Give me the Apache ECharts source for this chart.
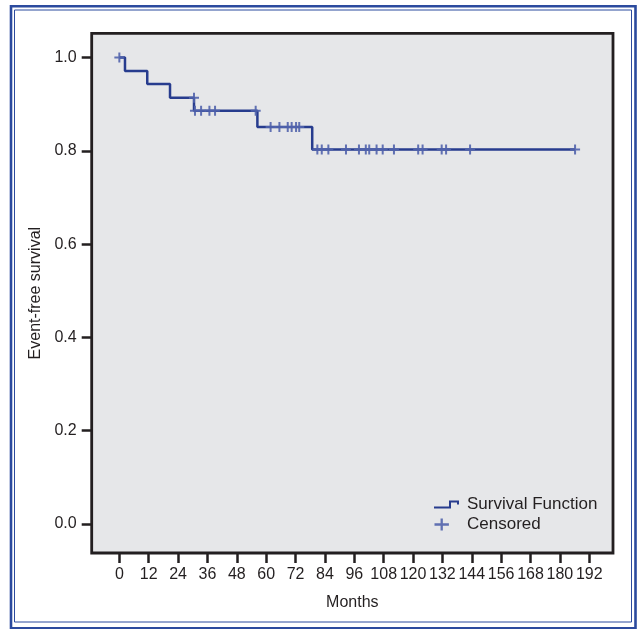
<!DOCTYPE html>
<html>
<head>
<meta charset="utf-8">
<script src="https://cdn.jsdelivr.net/npm/echarts@6/dist/echarts.min.js"></script>
<style>
  html, body { margin: 0; padding: 0; background: #fff; }
  #chart { width: 641px; height: 629px; }
</style>
</head>
<body>
<div id="chart"></div>
<script>
// step points of the survival function (months, survival)
let eventTimes = [0, 2.3, 11.4, 20.7, 30.5, 56.4, 78.8]
let eventSurv = [1.0, 0.971, 0.943, 0.914, 0.886, 0.851, 0.803]
// censored marks
let censorTimes = [0, 30.5, 30.9, 33.4, 36.8, 39.1, 55.7, 61.8, 65.4, 68.8, 70.4, 72.2, 73.5,
  80.9, 82.7, 85.4, 92.6, 97.9, 100.7, 102.1, 105.1, 107.6, 112.2, 122.1, 123.9, 131.7, 133.5, 143.3, 186.2]
let censorSurv = [1.0, 0.914, 0.886, 0.886, 0.886, 0.886, 0.886, 0.851, 0.851, 0.851, 0.851, 0.851, 0.851,
  0.803, 0.803, 0.803, 0.803, 0.803, 0.803, 0.803, 0.803, 0.803, 0.803, 0.803, 0.803, 0.803, 0.803, 0.803, 0.803]
let monthTicks = [0, 12, 24, 36, 48, 60, 72, 84, 96, 108, 120, 132, 144, 156, 168, 180, 192]
let survTicks = [0, 0.2, 0.4, 0.6, 0.8, 1.0]

let lineColor = '#273c8e'
let censorColor = '#5163ac'
let ink = '#231f20'
let frameBlue = '#2b4a9e'
let font = '"Liberation Sans", Arial, Helvetica, sans-serif'

let stepData = eventTimes.map((t, i) => [t, eventSurv[i]])
// line runs on to the last censored observation
stepData.push([censorTimes[censorTimes.length - 1], eventSurv[eventSurv.length - 1]])
let censorData = censorTimes.map((t, i) => [t, censorSurv[i]])

let plusPath = 'path://M0,4H10V6H0Z M4,0H6V10H4Z'
let stepIcon = 'path://M0,0h0.01v0.01h-0.01Z M0,12h0.01v-0.01h-0.01Z M0,8H15V2H25V6H23V4H17V10H0Z'
let plusIcon = 'path://M24.99,0h0.01v0.01h-0.01Z M0,5H15V7.5H0Z M6.3,0H8.7V12.5H6.3Z'

let myChart = echarts.init(document.getElementById('chart'))
let option = {
  animation: false,
  backgroundColor: '#fff',
  textStyle: { fontFamily: font, color: ink },
  graphic: [
    {
      type: 'rect',
      shape: { x: 11, y: 6.3, width: 624.5, height: 622 },
      style: { fill: 'none', stroke: frameBlue, lineWidth: 2.6 }
    },
    {
      type: 'rect',
      shape: { x: 14.5, y: 10, width: 617, height: 612 },
      style: { fill: 'none', stroke: frameBlue, lineWidth: 1 }
    }
  ],
  grid: {
    left: 91.7,
    top: 33.3,
    right: 28,
    bottom: 76,
    show: true,
    backgroundColor: '#e6e7e9',
    borderColor: ink,
    borderWidth: 2.8
  },
  legend: {
    orient: 'vertical',
    left: 429,
    top: 491,
    itemWidth: 25,
    itemHeight: 12,
    itemGap: 3,
    textStyle: { fontSize: 17, color: ink, fontFamily: font, padding: [0, 0, 0, 3] },
    data: [
      { name: 'Survival Function', icon: stepIcon },
      { name: 'Censored', icon: plusIcon }
    ]
  },
  xAxis: {
    type: 'value',
    min: -11.3,
    max: 201.7,
    name: 'Months',
    nameLocation: 'middle',
    nameGap: 42,
    nameTextStyle: { fontSize: 16, color: ink, fontFamily: font },
    axisLine: { show: false, onZero: false },
    splitLine: { show: false },
    axisTick: {
      show: true,
      inside: false,
      length: 10,
      customValues: monthTicks,
      lineStyle: { color: ink, width: 2.5 }
    },
    axisLabel: {
      customValues: monthTicks,
      margin: 14,
      fontSize: 16,
      color: ink,
      fontFamily: font
    }
  },
  yAxis: {
    type: 'value',
    min: -0.0622,
    max: 1.0519,
    name: 'Event-free survival',
    nameLocation: 'middle',
    nameGap: 42,
    nameTextStyle: { fontSize: 16, color: ink, fontFamily: font },
    axisLine: { show: false, onZero: false },
    splitLine: { show: false },
    axisTick: {
      show: true,
      inside: false,
      length: 10,
      customValues: survTicks,
      lineStyle: { color: ink, width: 2.5 }
    },
    axisLabel: {
      customValues: survTicks,
      margin: 15,
      fontSize: 16,
      color: ink,
      fontFamily: font,
      formatter: function (v) {
        return v.toFixed(1)
      }
    }
  },
  series: [
    {
      name: 'Survival Function',
      type: 'line',
      step: 'end',
      data: stepData,
      showSymbol: false,
      symbol: 'none',
      lineStyle: { color: lineColor, width: 2.5 },
      itemStyle: { color: lineColor },
      z: 2
    },
    {
      name: 'Censored',
      type: 'scatter',
      data: censorData,
      symbol: plusPath,
      symbolSize: 10,
      itemStyle: { color: censorColor, opacity: 0.9 },
      z: 3
    }
  ]
}
myChart.setOption(option)
</script>
</body>
</html>
